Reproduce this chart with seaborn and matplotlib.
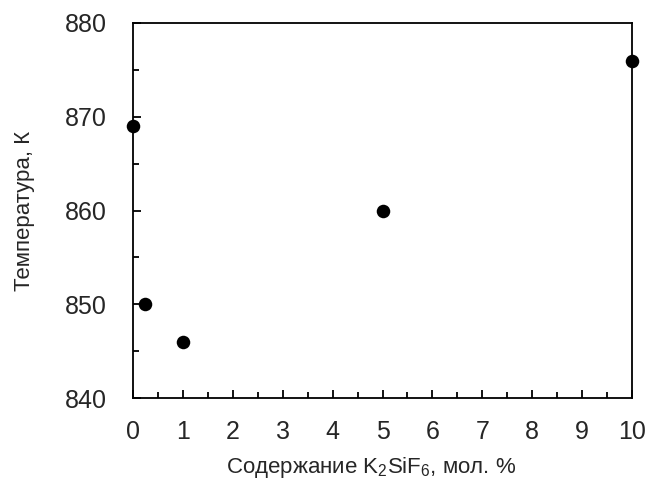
import matplotlib
matplotlib.use("Agg")
import matplotlib.pyplot as plt
import seaborn as sns
import pandas as pd
from matplotlib.ticker import MultipleLocator

content = [0, 0.25, 1, 5, 10]
temperature = [869, 850, 846, 860, 876]
x_ticks = [0, 1, 2, 3, 4, 5, 6, 7, 8, 9, 10]
y_ticks = [840, 850, 860, 870, 880]

sns.set_style("ticks")
plt.rcParams['font.family'] = ['Liberation Sans', 'DejaVu Sans']
plt.rcParams['mathtext.default'] = 'regular'

df = pd.DataFrame({"x": content, "y": temperature})

W, H = 651, 482
ax_left, ax_right, ax_top, ax_bottom = 133, 632, 23, 398

fig = plt.figure(figsize=(W / 100, H / 100), dpi=100)
ax = fig.add_axes([ax_left / W, 1 - ax_bottom / H,
                   (ax_right - ax_left) / W, (ax_bottom - ax_top) / H])

sns.scatterplot(data=df, x="x", y="y", ax=ax, color="black", s=95,
                edgecolor="black", linewidth=0, clip_on=False, zorder=5)

ax.set_xlim(0, 10)
ax.set_ylim(840, 880)
ax.set_xticks(x_ticks)
ax.set_yticks(y_ticks)
ax.xaxis.set_minor_locator(MultipleLocator(0.5))
ax.yaxis.set_minor_locator(MultipleLocator(5))
ax.tick_params(which="both", direction="in", color="black", width=1.3,
               top=False, right=False)
ax.tick_params(which="major", length=6, labelsize=18)
ax.tick_params(axis="x", which="major", pad=16)
ax.tick_params(axis="y", which="major", pad=19)
ax.tick_params(which="minor", length=4.5)
for s in ax.spines.values():
    s.set_visible(True)
    s.set_color("black")
    s.set_linewidth(1.3)

ax.set_xlabel("Содержание K$_2$SiF$_6$, мол. %", fontsize=16)
ax.set_ylabel("Температура, К", fontsize=16, labelpad=21)
xlabel_y = (ax_bottom - 467) / (ax_bottom - ax_top)
ax.xaxis.set_label_coords(0.478, xlabel_y)
ax.xaxis.label.set_va("center")

fig.savefig("out.png", dpi=100)
